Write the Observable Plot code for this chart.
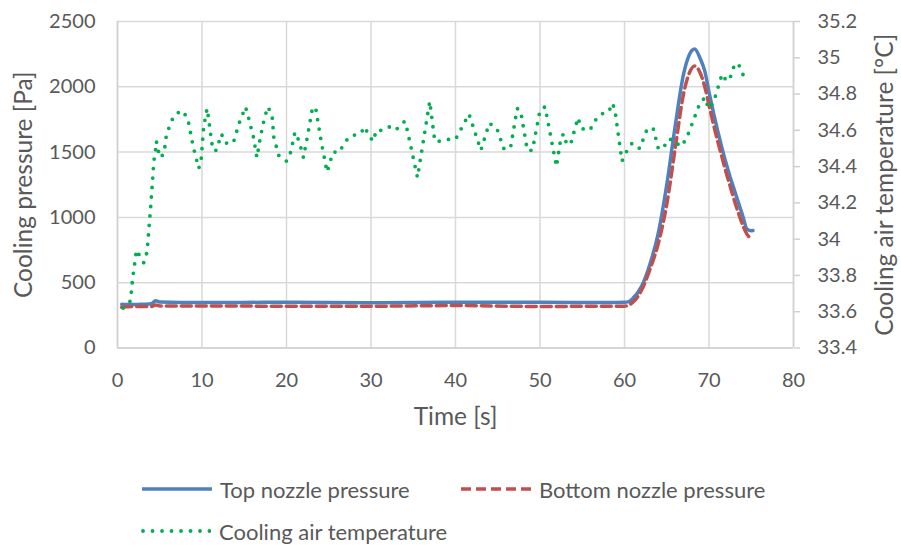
<!DOCTYPE html>
<html>
<head>
<meta charset="utf-8">
<script src="https://cdn.jsdelivr.net/npm/d3@7"></script>
<script src="https://cdn.jsdelivr.net/npm/@observablehq/plot@0.6"></script>
<style>
  html, body { margin: 0; padding: 0; background: #fff; }
  #wrap { width: 901px; position: relative; font-family: Lato, "Open Sans", sans-serif; color: #595959; }
  #legend { position: relative; width: 901px; height: 100px; font-size: 22px; }
  .item { position: absolute; display: flex; align-items: center; white-space: nowrap; }
  .item svg { margin-right: 8px; }
</style>
</head>
<body>
<div id="wrap"></div>
<script>
// ---- Data ----
const xTicks = [0, 10, 20, 30, 40, 50, 60, 70, 80];
const pressureTicks = [0, 500, 1000, 1500, 2000, 2500];
const tempTicks = [33.4, 33.6, 33.8, 34, 34.2, 34.4, 34.6, 34.8, 35, 35.2];

const pressureTime = [0.5, 1, 2, 3, 4, 4.5, 5, 10, 20, 30, 40, 50, 58, 60, 60.5, 61, 62, 63, 64, 65, 66, 67, 67.7, 68.3, 69, 69.5, 70, 70.5, 71, 71.5, 72, 72.5, 73, 73.5, 74, 74.5, 75, 75.2];
const topPressure = [335, 333, 333, 335, 338, 362, 352, 348, 350, 346, 350, 350, 348, 350, 355, 380, 470, 640, 880, 1250, 1700, 2100, 2250, 2290, 2210, 2120, 1960, 1810, 1670, 1540, 1420, 1310, 1210, 1110, 1010, 910, 898, 900];
const bottomPressure = [312, 315, 318, 318, 318, 330, 322, 322, 320, 320, 325, 318, 320, 320, 330, 350, 440, 600, 800, 1100, 1530, 1950, 2110, 2160, 2100, 2000, 1860, 1720, 1590, 1470, 1350, 1240, 1130, 1030, 940, 870, 842, 840];

const tempTime = [0.67, 1.54, 1.78, 2.25, 2.72, 3.1, 3.5, 3.98, 4.3, 4.5, 4.6, 5.0, 5.5, 5.8, 6.66, 7.57, 8.3, 8.96, 9.62, 9.9, 10.2, 10.6, 10.8, 11.1, 11.3, 11.7, 12.3, 12.8, 13.7, 14.4, 15.15, 15.5, 16.1, 16.5, 16.9, 17.4, 17.8, 18.3, 18.5, 19.1, 20.0, 20.5, 21.0, 21.5, 22.0, 22.45, 23.1, 23.5, 24.1, 24.8, 25.5, 26.3, 26.8, 27.6, 28.7, 29.3, 29.7, 30.3, 30.6, 31.3, 32.1, 32.9, 33.5, 34.0, 34.3, 35.5, 36.95, 37.55, 38.1, 39.0, 40.0, 41.6, 43.0, 44.0, 44.9, 45.7, 46.5, 47.3, 47.7, 48.5, 49.1, 50.0, 50.6, 51.95, 52.5, 52.9, 53.1, 53.6, 54.5, 54.9, 55.9, 56.45, 57.2, 58.1, 58.6, 58.9, 59.7, 60.2, 60.9, 61.8, 62.7, 63.4, 64.0, 64.6, 65.1, 65.8, 66.6, 67.3, 69.0, 69.6, 69.9, 70.5, 71.55, 72.1, 72.6, 73.0, 73.45, 74.0, 74.4];
const airTemp = [33.62, 33.66, 33.78, 33.94, 33.90, 33.87, 33.93, 34.21, 34.43, 34.49, 34.54, 34.45, 34.47, 34.58, 34.68, 34.71, 34.67, 34.51, 34.39, 34.44, 34.62, 34.72, 34.66, 34.55, 34.49, 34.49, 34.58, 34.53, 34.53, 34.64, 34.73, 34.67, 34.56, 34.45, 34.56, 34.67, 34.73, 34.68, 34.56, 34.46, 34.43, 34.48, 34.59, 34.54, 34.45, 34.56, 34.73, 34.71, 34.54, 34.37, 34.48, 34.48, 34.53, 34.57, 34.58, 34.62, 34.57, 34.54, 34.60, 34.60, 34.62, 34.60, 34.63, 34.65, 34.60, 34.34, 34.76, 34.54, 34.54, 34.55, 34.55, 34.69, 34.49, 34.64, 34.61, 34.50, 34.50, 34.72, 34.71, 34.49, 34.49, 34.71, 34.73, 34.40, 34.57, 34.58, 34.53, 34.52, 34.67, 34.61, 34.60, 34.65, 34.69, 34.70, 34.75, 34.70, 34.43, 34.48, 34.53, 34.50, 34.61, 34.61, 34.50, 34.50, 34.55, 34.55, 34.51, 34.55, 34.76, 34.78, 34.72, 34.75, 34.91, 34.87, 34.90, 34.96, 34.97, 34.91, 34.86];

const seriesNames = ["Top nozzle pressure", "Bottom nozzle pressure", "Cooling air temperature"];
const colors = ["#4F81BD", "#C0504D", "#00B050"];

// ---- secondary axis mapping (temperature -> pressure scale) ----
const tMin = 33.4, tMax = 35.2, pMax = 2500;
const toP = t => (t - tMin) / (tMax - tMin) * pMax;
const fromP = p => +(tMin + p / pMax * (tMax - tMin)).toFixed(1);

const pressureRows = pressureTime.map((t, i) => ({t, top: topPressure[i], bottom: bottomPressure[i]}));
const tempRows = tempTime.map((t, i) => ({t, T: airTemp[i]}));

const axisColor = "#d0d0d0";
const gridColor = "#d9d9d9";

const chart = Plot.plot({
  width: 901,
  height: 445,
  marginLeft: 117,
  marginRight: 108,
  marginTop: 21,
  marginBottom: 97.5,
  style: {fontFamily: "Lato, 'Open Sans', sans-serif", fontSize: "20px", color: "#595959", background: "#fff"},
  x: {domain: [0, 80]},
  y: {domain: [0, 2500]},
  marks: [
    Plot.gridX(xTicks, {stroke: gridColor, strokeOpacity: 1, strokeWidth: 1.5}),
    Plot.gridY(pressureTicks, {stroke: gridColor, strokeOpacity: 1, strokeWidth: 1.5}),
    Plot.ruleX([0], {stroke: axisColor, strokeWidth: 1.5}),
    Plot.ruleY([0], {stroke: axisColor, strokeWidth: 1.5}),
    Plot.ruleX([80], {stroke: axisColor, strokeWidth: 1.5}),
    Plot.axisX(xTicks, {tickSize: 0, tickPadding: 25, label: null, fill: "#595959", tickFormat: d => String(d)}),
    Plot.axisY(pressureTicks, {anchor: "left", tickSize: 0, tickPadding: 22, label: null, fill: "#595959", tickFormat: d => String(d)}),
    Plot.axisY(tempTicks.map(toP), {anchor: "right", tickSize: 6, tickPadding: 18, stroke: axisColor, strokeWidth: 1.5,
      tickFormat: p => String(fromP(p)), label: null, fill: "#595959"}),
    Plot.text(["Time [s]"], {frameAnchor: "bottom", dy: 77, fontSize: 24.5, fill: "#595959", textAnchor: "middle"}),
    Plot.text(["Cooling pressure [Pa]"], {frameAnchor: "left", dx: -93, rotate: -90, fontSize: 24.5, fill: "#595959", textAnchor: "middle", lineAnchor: "middle"}),
    Plot.text(["Cooling air temperature [°C]"], {frameAnchor: "right", dx: 92, rotate: -90, fontSize: 24.5, fill: "#595959", textAnchor: "middle", lineAnchor: "middle"}),
    Plot.line(pressureRows, {x: "t", y: "top", stroke: colors[0], strokeWidth: 3.5, curve: "monotone-x"}),
    Plot.line(pressureRows, {x: "t", y: "bottom", stroke: colors[1], strokeWidth: 3.5, strokeDasharray: "10 5", curve: "monotone-x"}),
    Plot.line(tempRows, {x: "t", y: d => toP(d.T), stroke: colors[2], strokeWidth: 3.8, strokeDasharray: "0 9.5", strokeLinecap: "round", strokeLinejoin: "round"})
  ]
});

const wrap = document.getElementById("wrap");
wrap.appendChild(chart);

// ---- legend ----
const legend = document.createElement("div");
legend.id = "legend";
const items = [
  {x: 142, y: 44, dash: null, cap: "butt", w: 3.5},
  {x: 461, y: 44, dash: "10 5", cap: "butt", w: 3.5},
  {x: 141, y: 86, dash: "0 9.5", cap: "round", w: 3.8}
];
items.forEach((it, i) => {
  const d = document.createElement("div");
  d.className = "item";
  d.style.left = it.x + "px";
  d.style.top = (it.y - 15) + "px";
  d.style.height = "30px";
  const sw = 70;
  d.innerHTML = `<svg width="${sw}" height="10"><line x1="${it.cap === "round" ? 2 : 0}" x2="${sw}" y1="5" y2="5" stroke="${colors[i]}" stroke-width="${it.w}" ${it.dash ? `stroke-dasharray="${it.dash}"` : ""} stroke-linecap="${it.cap}"/></svg><span>${seriesNames[i]}</span>`;
  legend.appendChild(d);
});
wrap.appendChild(legend);
</script>
</body>
</html>
